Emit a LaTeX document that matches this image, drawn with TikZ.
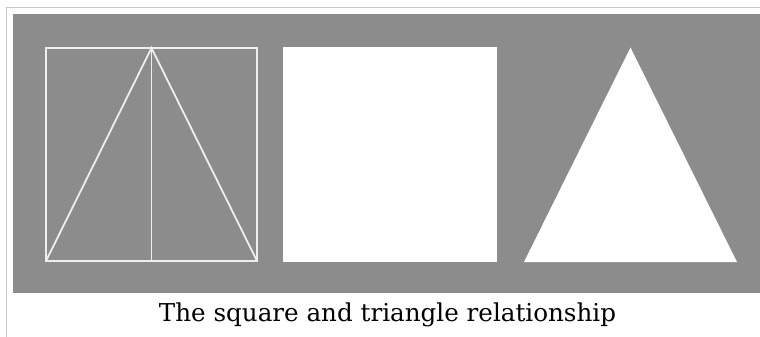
\documentclass[tikz,border=0pt]{standalone}
\usepackage{fontspec}
\setmainfont{DejaVu Serif}
\definecolor{bggray}{HTML}{8C8C8C}
\definecolor{framegray}{HTML}{C8C8C8}
\definecolor{linewhite}{HTML}{EEEEEE}
\begin{document}
\begin{tikzpicture}[x=1pt,y=-1pt,
  frameline/.style={draw=framegray,line width=1.8pt},
  outline/.style={draw=linewhite,line width=1.8pt},
  solid shape/.style={fill=white}]
\useasboundingbox (0,0) rectangle (760,337);
\fill[white] (0,0) rectangle (760,337);
% outer frame lines
\coordinate (ftl) at (6.5,7.5);
\coordinate (ftr) at (760,7.5);
\coordinate (fbl) at (6.5,337);
\draw[frameline] (ftr) -- (ftl) -- (fbl);
% gray panel
\fill[bggray] (13,14) rectangle (760,292.5);
% square with inscribed triangle
\coordinate (sbl) at (46,261);
\coordinate (sbr) at (257,261);
\coordinate (str) at (257,48);
\coordinate (stl) at (46,48);
\coordinate (apex) at (151.5,48);
\coordinate (mid) at (151.5,261);
\draw[outline] (sbl) -- (sbr) -- (str) -- (stl) -- cycle;
\draw[outline] (sbl) -- (apex) -- (sbr);
\draw[outline] (apex) -- (mid);
% white square
\fill[solid shape] (283,47.5) rectangle (497,262);
% white triangle
\coordinate (tl) at (524,262);
\coordinate (tt) at (630.5,47.5);
\coordinate (tr) at (737,262);
\fill[solid shape] (tl) -- (tt) -- (tr) -- cycle;
% caption
\node[anchor=base,inner sep=0pt,font=\fontsize{24.6}{29}\selectfont] (cap) at (387.5,321.7) {The square and triangle relationship};
\end{tikzpicture}
\end{document}
